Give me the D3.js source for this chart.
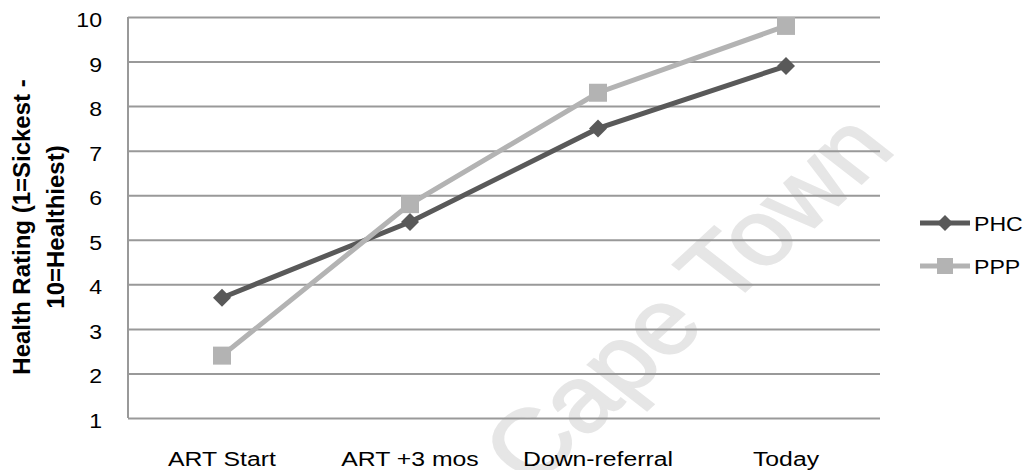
<!DOCTYPE html>
<html>
<head>
<meta charset="utf-8">
<script src="https://cdn.jsdelivr.net/npm/d3@7"></script>
<style>
	body { margin: 0; background: #fff; }
	svg { display: block; font-family: 'Liberation Sans', Arial, sans-serif; }
</style>
</head>
<body>
<script>
const categories = ['ART Start', 'ART +3 mos', 'Down-referral', 'Today'];
const phc = [3.7, 5.4, 7.5, 8.9];
const ppp = [2.4, 5.8, 8.3, 9.8];
const yTicks = [1, 2, 3, 4, 5, 6, 7, 8, 9, 10];

const w = 1026;
const h = 470;
const plotLeft = 128;
const plotRight = 880;
const plotTop = 17;
const plotBottom = 418;

const svg = d3
	.select('body')
	.append('svg')
	.attr('width', w)
	.attr('height', h);

const xScale = d3.scaleBand().domain(categories).range([plotLeft, plotRight]);
const yScale = d3.scaleLinear().domain([1, 10]).range([plotBottom, plotTop]);

// watermark (the whole picture looks a bit stretched sideways)
svg
	.append('text')
	.attr('transform', 'scale(1.18,1) translate(582,298) rotate(-47.5)')
	.attr('text-anchor', 'middle')
	.attr('dominant-baseline', 'central')
	.style('font-size', '92px')
	.style('fill', '#e6e6e6')
	.style('stroke', '#e6e6e6')
	.style('stroke-width', 2)
	.text('Cape Town');

// gridlines
svg
	.append('g')
	.attr('transform', `translate(${plotLeft},0)`)
	.call(d3.axisLeft(yScale).tickValues(yTicks).tickSize(-(plotRight - plotLeft)).tickFormat(''))
	.call(g => g.select('.domain').remove())
	.call(g => g.selectAll('line').attr('stroke', '#999').attr('stroke-width', 2));

svg
	.append('line')
	.attr('x1', plotLeft)
	.attr('x2', plotLeft)
	.attr('y1', plotTop)
	.attr('y2', plotBottom)
	.attr('stroke', '#999')
	.attr('stroke-width', 2);

// y tick labels
svg
	.selectAll('.ylab')
	.data(yTicks)
	.enter()
	.append('text')
	.attr('transform', d => `translate(102,${yScale(d) + 10}) scale(1.1,1)`)
	.attr('text-anchor', 'end')
	.style('font-size', '21px')
	.text(d => d);

// x labels
svg
	.selectAll('.xlab')
	.data(categories)
	.enter()
	.append('text')
	.attr('transform', d => `translate(${xScale(d) + xScale.bandwidth() / 2},466) scale(1.18,1)`)
	.attr('text-anchor', 'middle')
	.style('font-size', '21px')
	.text(d => d);

// y title
svg
	.append('text')
	.attr('transform', 'translate(30,227) rotate(-90)')
	.attr('text-anchor', 'middle')
	.style('font-size', '24px')
	.style('font-weight', 'bold')
	.selectAll('tspan')
	.data(['Health Rating (1=Sickest -', '10=Healthiest)'])
	.enter()
	.append('tspan')
	.attr('x', 0)
	.attr('dy', (d, i) => (i === 0 ? 0 : 34))
	.text(d => d);

const cx = i => xScale(categories[i]) + xScale.bandwidth() / 2;
const line = d3
	.line()
	.x((d, i) => cx(i))
	.y(d => yScale(d));

const diamond = s => `M0,${-s}L${s},0L0,${s}L${-s},0Z`;

// PHC
svg
	.append('path')
	.datum(phc)
	.attr('d', line)
	.attr('fill', 'none')
	.attr('stroke', '#595959')
	.attr('stroke-width', 5);
svg
	.selectAll('.phc')
	.data(phc)
	.enter()
	.append('path')
	.attr('transform', (d, i) => `translate(${cx(i)},${yScale(d)})`)
	.attr('d', diamond(9))
	.attr('fill', '#595959');

// PPP
svg
	.append('path')
	.datum(ppp)
	.attr('d', line)
	.attr('fill', 'none')
	.attr('stroke', '#b3b3b3')
	.attr('stroke-width', 5);
svg
	.selectAll('.ppp')
	.data(ppp)
	.enter()
	.append('rect')
	.attr('x', (d, i) => cx(i) - 9)
	.attr('y', d => yScale(d) - 9)
	.attr('width', 18)
	.attr('height', 18)
	.attr('fill', '#b3b3b3');

// legend
const legend = [
	{ name: 'PHC', color: '#595959', y: 223 },
	{ name: 'PPP', color: '#b3b3b3', y: 266 },
];
legend.forEach(l => {
	svg
		.append('line')
		.attr('x1', 920)
		.attr('x2', 970)
		.attr('y1', l.y)
		.attr('y2', l.y)
		.attr('stroke', l.color)
		.attr('stroke-width', 5);
	if (l.name === 'PHC') {
		svg.append('path').attr('transform', `translate(945,${l.y})`).attr('d', diamond(8)).attr('fill', l.color);
	} else {
		svg.append('rect').attr('x', 937).attr('y', l.y - 8).attr('width', 16).attr('height', 16).attr('fill', l.color);
	}
	svg
		.append('text')
		.attr('transform', `translate(974,${l.y + 8}) scale(1.1,1)`)
		.style('font-size', '21px')
		.text(l.name);
});
</script>
</body>
</html>
